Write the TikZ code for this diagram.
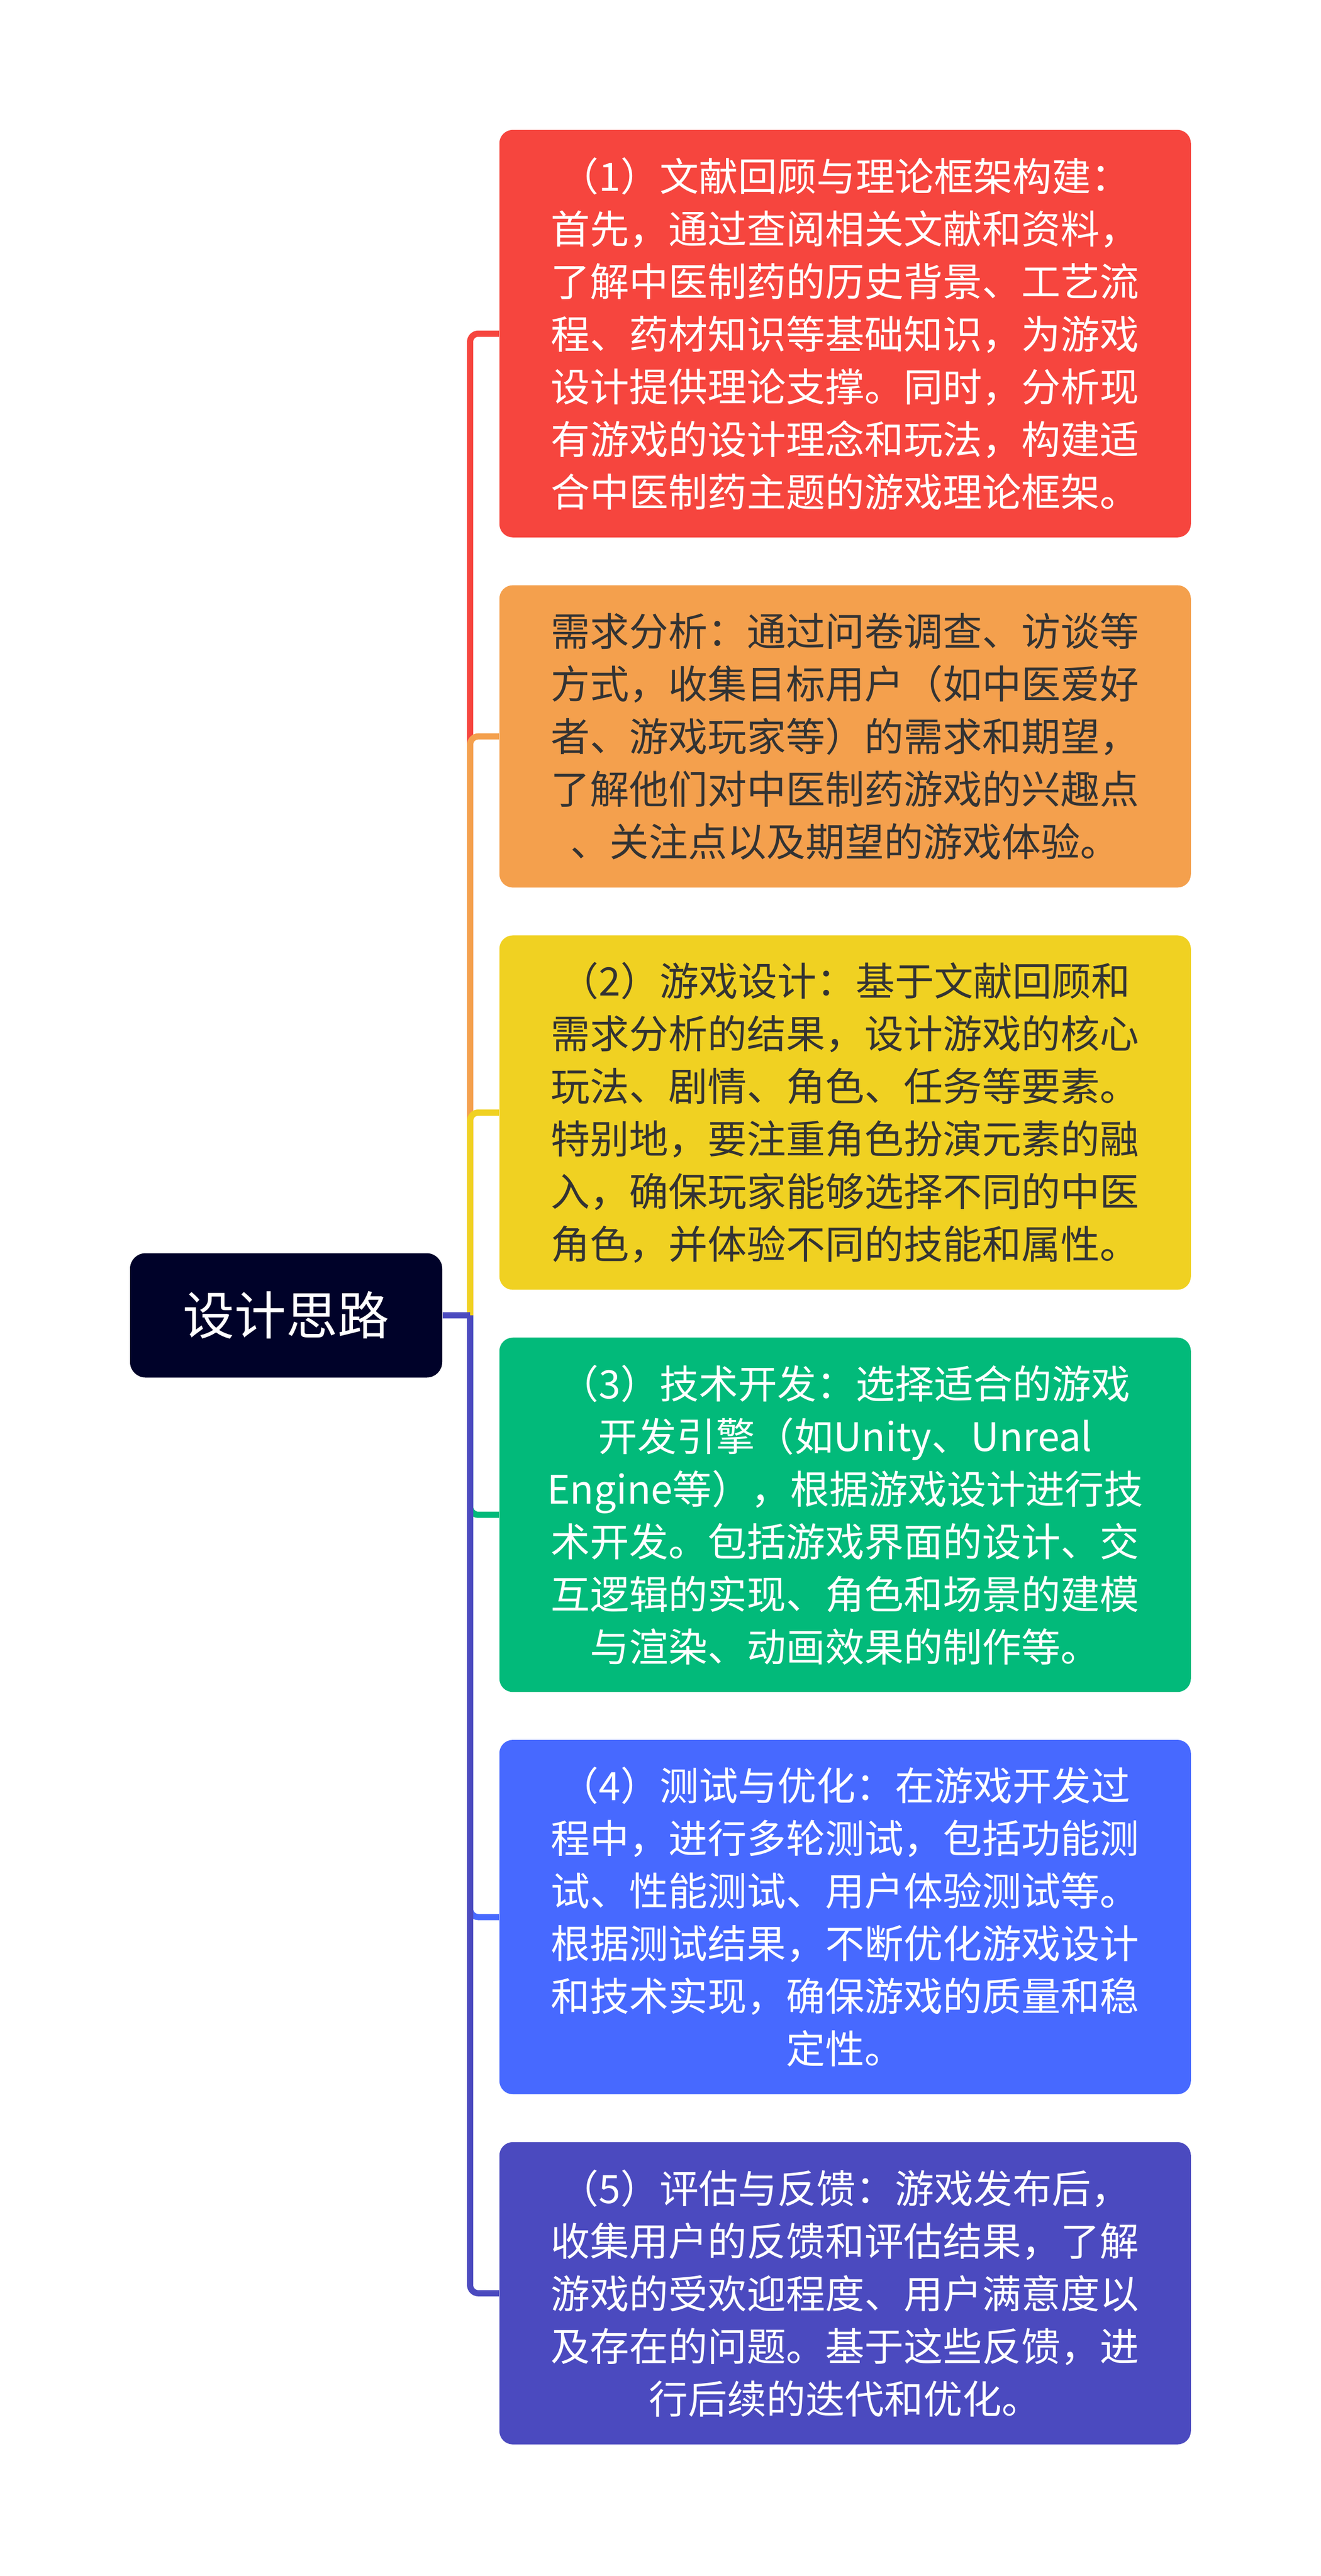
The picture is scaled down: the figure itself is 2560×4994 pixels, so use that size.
\documentclass[tikz,border=0pt]{standalone}
\usepackage{fontspec}
\newfontfamily\cjk{Noto Sans CJK SC}
\usetikzlibrary{positioning}

\definecolor{rootc}{HTML}{000229}
\definecolor{litc}{HTML}{F6453E}
\definecolor{needc}{HTML}{F4A04D}
\definecolor{gamec}{HTML}{F0D122}
\definecolor{techc}{HTML}{02BA7A}
\definecolor{testc}{HTML}{4769FF}
\definecolor{evalc}{HTML}{4B4ABF}
\definecolor{darktext}{HTML}{333333}

\tikzset{
  card/.style={rounded corners=6.5pt, text width=290pt, align=center,
    inner xsep=22.5pt, inner ysep=0pt, font=\cjk\fontsize{19}{25.5}\selectfont},
  branch/.style={line width=3pt, rounded corners=4pt},
}

\begin{document}
\begin{tikzpicture}[x=0.25pt, y=-0.25pt, node distance=22.8pt]
    \useasboundingbox (0,0) rectangle (2560,4994);
    % the six steps
    \node[card, fill=litc, text=white, minimum height=197.5pt, anchor=north west] (lit) at (967,251)
      {（1）文献回顾与理论框架构建：\\首先，通过查阅相关文献和资料，\\了解中医制药的历史背景、工艺流\\程、药材知识等基础知识，为游戏\\设计提供理论支撑。同时，分析现\\有游戏的设计理念和玩法，构建适\\合中医制药主题的游戏理论框架。};
    \node[card, fill=needc, text=darktext, minimum height=146.5pt, below=of lit] (need)
      {需求分析：通过问卷调查、访谈等\\方式，收集目标用户（如中医爱好\\者、游戏玩家等）的需求和期望，\\了解他们对中医制药游戏的兴趣点\\、关注点以及期望的游戏体验。};
    \node[card, fill=gamec, text=darktext, minimum height=171.75pt, below=of need] (game)
      {（2）游戏设计：基于文献回顾和\\需求分析的结果，设计游戏的核心\\玩法、剧情、角色、任务等要素。\\特别地，要注重角色扮演元素的融\\入，确保玩家能够选择不同的中医\\角色，并体验不同的技能和属性。};
    \node[card, fill=techc, text=white, minimum height=171.75pt, below=of game] (tech)
      {（3）技术开发：选择适合的游戏\\开发引擎（如Unity、Unreal\\Engine等），根据游戏设计进行技\\术开发。包括游戏界面的设计、交\\互逻辑的实现、角色和场景的建模\\与渲染、动画效果的制作等。};
    \node[card, fill=testc, text=white, minimum height=171.75pt, below=of tech] (test)
      {（4）测试与优化：在游戏开发过\\程中，进行多轮测试，包括功能测\\试、性能测试、用户体验测试等。\\根据测试结果，不断优化游戏设计\\和技术实现，确保游戏的质量和稳\\定性。};
    \node[card, fill=evalc, text=white, minimum height=146.5pt, below=of test] (eval)
      {（5）评估与反馈：游戏发布后，\\收集用户的反馈和评估结果，了解\\游戏的受欢迎程度、用户满意度以\\及存在的问题。基于这些反馈，进\\行后续的迭代和优化。};
    % root
    \node[fill=rootc, text=white, rounded corners=7.5pt, minimum width=151.25pt,
      minimum height=60.25pt, font=\cjk\fontsize{25}{30}\selectfont] (root) at (554.5,2550) {设计思路};
    \coordinate (fork) at (911,2550);
    % branches
    \draw[branch, litc] (fork) |- (lit.west);
    \draw[branch, needc] (fork) |- (need.west);
    \draw[branch, gamec] (fork) |- (game.west);
    \draw[branch, techc] (fork) |- (tech.west);
    \draw[branch, testc] (fork) |- (test.west);
    \draw[branch, evalc] (fork) |- (eval.west);
    \draw[branch, evalc] (root.east) -- (fork);
\end{tikzpicture}
\end{document}
